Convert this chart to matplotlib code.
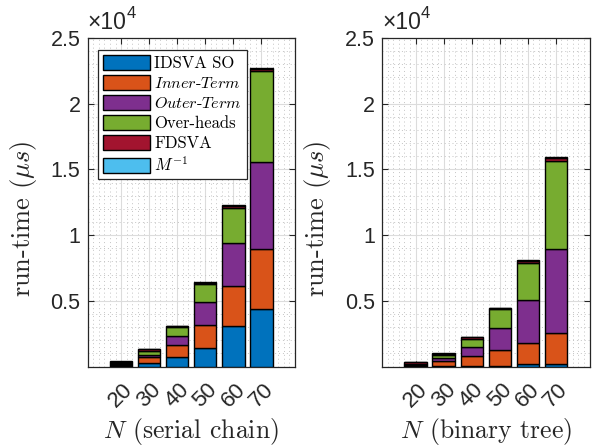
import matplotlib
matplotlib.use("Agg")
import matplotlib.pyplot as plt
import numpy as np
from matplotlib.ticker import MultipleLocator

plt.rcParams['mathtext.fontset'] = 'cm'
plt.rcParams['axes.unicode_minus'] = False

N = [20, 30, 40, 50, 60, 70]
series_names = ['IDSVA SO', r'$Inner$-$Term$', r'$Outer$-$Term$', 'Over-heads', 'FDSVA', r'$M^{-1}$']
colors = ['#0072BD', '#D95319', '#7E2F8E', '#77AC30', '#A2142F', '#4DBEEE']

# run-time in microseconds (serial chain)
serial_idsva = [40, 300, 720, 1385, 3100, 4376]
serial_inner = [100, 400, 940, 1800, 3000, 4544]
serial_outer = [60, 200, 640, 1710, 3276, 6640]
serial_over = [60, 300, 680, 1390, 2714, 6900]
serial_fdsva = [120, 100, 90, 100, 150, 200]
serial_minv = [40, 30, 30, 30, 50, 80]

# run-time in microseconds (binary tree)
tree_idsva = [20, 40, 40, 60, 190, 170]
tree_inner = [100, 360, 740, 1170, 1620, 2360]
tree_outer = [40, 250, 680, 1700, 3270, 6410]
tree_over = [60, 230, 630, 1420, 2770, 6720]
tree_fdsva = [100, 100, 120, 90, 170, 220]
tree_minv = [20, 40, 40, 30, 60, 90]

yticks = [5000, 10000, 15000, 20000, 25000]
ytick_labels = ['0.5', '1', '1.5', '2', '2.5']
xlabels = [r'$N$ (serial chain)', r'$N$ (binary tree)']
ylabel = r'run-time ($\mu s$)'

fig = plt.figure(figsize=(5.95, 4.47), dpi=100)
W, H = 595, 447
ax_l = fig.add_axes([87.5 / W, (H - 366.5) / H, 207.5 / W, 328.5 / H])
ax_r = fig.add_axes([382 / W, (H - 366.5) / H, 207.5 / W, 328.5 / H])

datasets = [
    [serial_idsva, serial_inner, serial_outer, serial_over, serial_fdsva, serial_minv],
    [tree_idsva, tree_inner, tree_outer, tree_over, tree_fdsva, tree_minv],
]

axcol = '#262626'
for ax, data, xl in zip([ax_l, ax_r], datasets, xlabels):
    bottom = np.zeros(len(N))
    handles = []
    for vals, c, name in zip(data, colors, series_names):
        b = ax.bar(N, vals, width=8, bottom=bottom, color=c, edgecolor='black',
                   linewidth=1.0, label=name, zorder=3)
        handles.append(b)
        bottom += np.array(vals)
    ax.set_xlim(8, 82)
    ax.set_ylim(0, 25000)
    ax.set_xticks(N)
    ax.set_xticklabels([str(n) for n in N], rotation=45, ha='center', va='center',
                       fontsize=16, family='Liberation Sans', color=axcol)
    ax.set_yticks(yticks)
    ax.set_yticklabels(ytick_labels, fontsize=15.5, family='Liberation Sans', color=axcol)
    ax.xaxis.set_minor_locator(MultipleLocator(2))
    ax.yaxis.set_minor_locator(MultipleLocator(1000))
    ax.grid(True, which='major', color='#dcdcdc', linewidth=0.8, zorder=0)
    ax.grid(True, which='minor', color='#c4c4c4', linestyle=(0, (1, 3)), linewidth=0.7, zorder=0)
    ax.set_axisbelow(True)
    ax.tick_params(which='major', direction='in', length=4, width=0.8, top=True, right=True,
                   color=axcol, pad=5)
    ax.tick_params(axis='x', which='major', pad=21)
    ax.tick_params(which='minor', length=0)
    for s in ax.spines.values():
        s.set_color(axcol)
        s.set_linewidth(0.9)
    ax.set_xlabel(xl, fontsize=18.5, family='cmr10', color=axcol, labelpad=3)
    ax.set_ylabel(ylabel, fontsize=19, family='cmr10', color=axcol)
    ax.yaxis.set_label_coords(-0.235, 0.45)
    t1 = ax.text(0.0, 1.012, '\u00d710', transform=ax.transAxes, ha='left', va='bottom',
                 fontsize=16.5, family='Liberation Sans', color=axcol)
    ax.annotate('4', xy=(1.0, 0.55), xycoords=t1, ha='left', va='bottom',
                fontsize=12, family='Liberation Sans', color=axcol)
    if ax is ax_l:
        leg = ax.legend(handles, series_names, loc='upper left', bbox_to_anchor=(0.049, 0.963),
                        borderaxespad=0, fancybox=False, framealpha=1, edgecolor='#262626',
                        prop={'family': 'cmr10', 'size': 12}, handlelength=2.85,
                        handleheight=0.95, handletextpad=0.25, labelspacing=0.25,
                        borderpad=0.3)
        for i in (1, 2):
            leg.get_texts()[i].set_fontsize(11.6)
        leg.get_frame().set_linewidth(0.9)
        leg.set_zorder(5)

fig.savefig('out.png', dpi=100)
